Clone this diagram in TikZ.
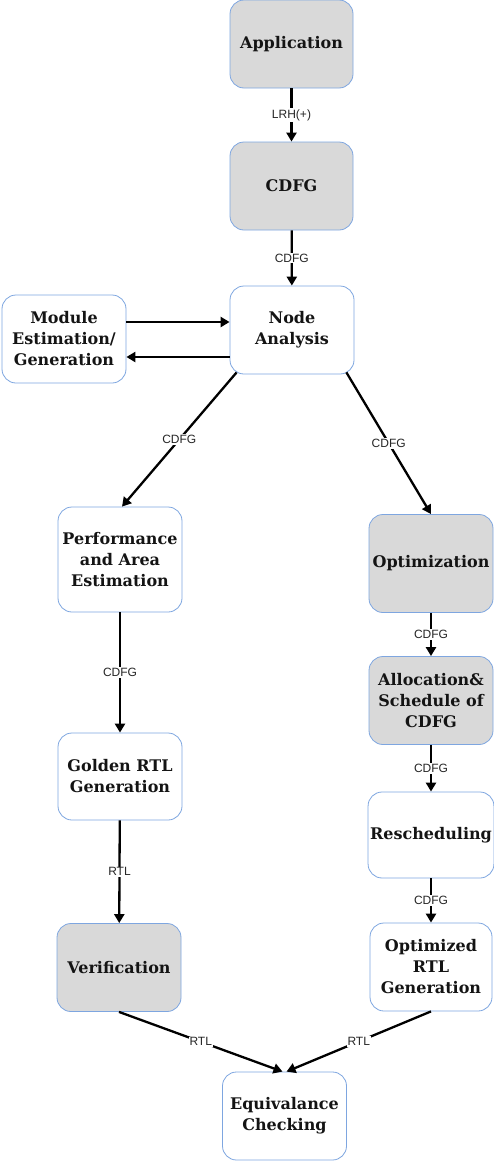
\documentclass[tikz,border=0pt]{standalone}
\usepackage{fontspec}
\setmainfont{DejaVu Serif}
\newfontfamily\labelfont{Liberation Sans}
\usetikzlibrary{arrows.meta}
\definecolor{boxedge}{RGB}{126,166,224}
\definecolor{boxgray}{RGB}{217,217,217}
\tikzset{
  stage/.style={draw=boxedge, line width=0.8pt, rounded corners=14pt, align=center,
    inner sep=2pt, font=\fontsize{16}{21}\selectfont\bfseries, text=black!92},
  plain/.style={stage, fill=white},
  shaded/.style={stage, fill=boxgray},
  flow/.style={line width=2.3pt, -{Triangle[width=10pt,length=9pt]}},
  tag/.style={fill=white, inner sep=1pt, font=\labelfont\fontsize{12}{14}\selectfont, text=black!85}
}
\begin{document}
\begin{tikzpicture}[x=1pt,y=-1pt]
\useasboundingbox (0,0) rectangle (494,1162);
% stages
\node[shaded, minimum width=123pt, minimum height=88pt] (app) at (291.5,44) {Application};
\node[shaded, minimum width=123pt, minimum height=88pt] (cdfg) at (291.5,186) {CDFG};
\node[plain, minimum width=124pt, minimum height=88pt] (na) at (292,330) {Node\\Analysis};
\node[plain, minimum width=124pt, minimum height=88pt] (mod) at (64,339) {Module\\Estimation/\\Generation};
\node[plain, minimum width=124pt, minimum height=105pt] (perf) at (120,559.5) {Performance\\and Area\\Estimation};
\node[shaded, minimum width=124pt, minimum height=98pt] (opt) at (431,563.5) {Optimization};
\node[shaded, minimum width=124pt, minimum height=88pt] (alloc) at (431,700.5) {Allocation\&\\Schedule of\\CDFG};
\node[plain, minimum width=124pt, minimum height=87pt] (gold) at (120,776.5) {Golden RTL\\Generation};
\node[plain, minimum width=124pt, minimum height=86pt] (resch) at (431,835) {Rescheduling};
\node[shaded, minimum width=124pt, minimum height=88pt] (verif) at (119,967.5) {Verification};
\node[plain, minimum width=122pt, minimum height=88pt] (optrtl) at (431,967) {Optimized\\RTL\\Generation};
\node[plain, minimum width=124pt, minimum height=88pt] (eq) at (284.5,1116) {Equivalance\\Checking};
% connectors
\draw[flow] (app) -- node[tag] {LRH(+)} (cdfg);
\draw[flow] (cdfg) -- node[tag] {CDFG} (na);
\draw[flow] ([yshift=17pt]mod.east) -- ([yshift=8pt]na.west);
\draw[flow] ([yshift=-27pt]na.west) -- ([yshift=-18pt]mod.east);
\draw[flow] ([xshift=7pt,yshift=2pt]na.south west) -- node[tag] {CDFG} ([xshift=2pt]perf.north);
\draw[flow] ([xshift=-8pt,yshift=2pt]na.south east) -- node[tag] {CDFG} (opt.north);
\draw[flow] (perf) -- node[tag] {CDFG} (gold);
\draw[flow] (gold) -- node[tag] {RTL} (verif);
\draw[flow] (opt) -- node[tag] {CDFG} (alloc);
\draw[flow] (alloc) -- node[tag] {CDFG} (resch);
\draw[flow] (resch) -- node[tag] {CDFG} (optrtl);
\draw[flow] (verif.south) -- node[tag] {RTL} ([xshift=-2pt]eq.north);
\draw[flow] (optrtl.south) -- node[tag] {RTL} ([xshift=2pt]eq.north);
\end{tikzpicture}
\end{document}
